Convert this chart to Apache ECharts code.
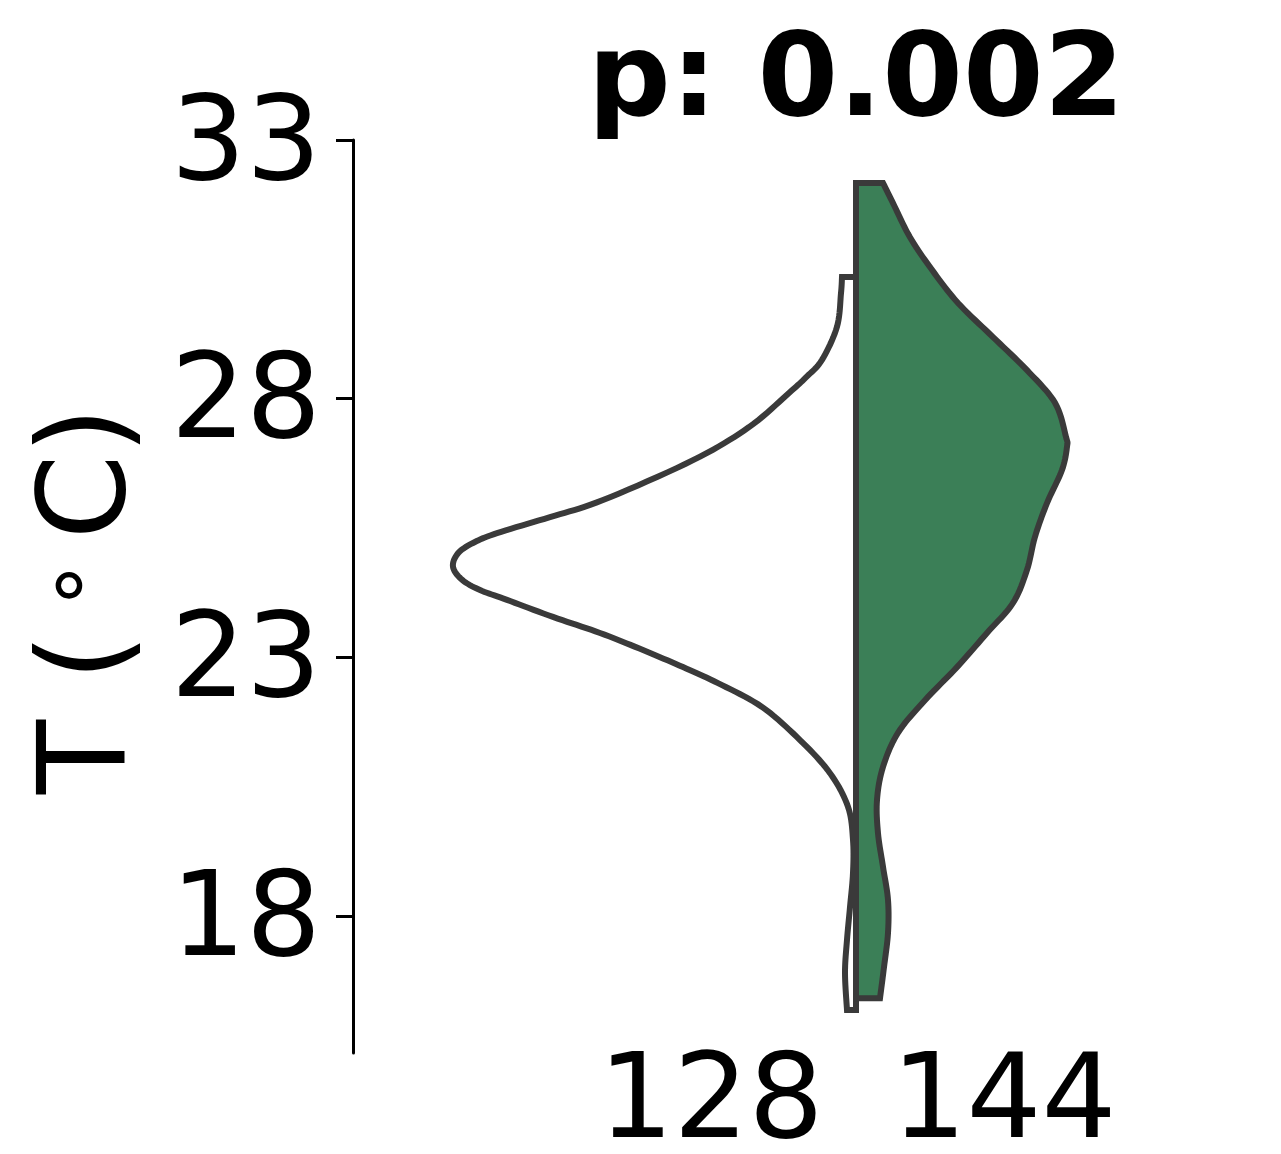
<!DOCTYPE html>
<html>
<head>
<meta charset="utf-8">
<script src="https://cdn.jsdelivr.net/npm/echarts@6/dist/echarts.min.js"></script>
<style>
  html, body { margin: 0; padding: 0; background: #ffffff; }
  #chart { width: 1281px; height: 1154px; }
</style>
</head>
<body>
<div id="chart"></div>
<script>
// Group names shown under each half and where they sit on the x scale
const groupLabels = ['128', '144'];
const groupLabelPos = [-1.45, 1.48];

// Temperature ticks on the y axis
const yTicks = [18, 23, 28, 33];

// Group 128 (left, open half): temperature (°C) from top to bottom and half-width of the density
const tempLeft = [30.35, 30.04, 29.39, 28.75, 28.43, 28.11, 27.45, 26.81, 26.04, 25.71, 25.40, 25.21,
  25.01, 24.75, 24.50, 24.30, 24.11, 23.78, 23.47, 23.14, 22.81, 22.50, 22.04, 21.40,
  20.76, 20.11, 19.47, 18.83, 18.17, 17.54, 16.90, 16.18];
const widthLeft = [0.14, 0.15, 0.19, 0.34, 0.49, 0.67, 1.07, 1.63, 2.53, 3.06, 3.59, 3.83,
  3.98, 4.03, 3.94, 3.76, 3.49, 3.03, 2.56, 2.13, 1.73, 1.38, 0.94, 0.56,
  0.26, 0.08, 0.03, 0.03, 0.06, 0.09, 0.11, 0.09];

// Group 144 (right, filled half)
const tempRight = [32.17, 31.78, 31.12, 30.49, 29.85, 29.19, 28.55, 27.92, 27.26, 27.07,
  26.62, 25.98, 25.33, 24.69, 24.05, 23.47, 22.81, 22.17, 21.54, 20.88, 20.24,
  19.60, 18.95, 18.31, 17.67, 17.01, 16.41];
const widthRight = [0.27, 0.37, 0.54, 0.76, 1.02, 1.37, 1.71, 1.99, 2.10, 2.11,
  2.06, 1.91, 1.79, 1.71, 1.57, 1.31, 1.01, 0.69, 0.42, 0.27, 0.21,
  0.22, 0.27, 0.32, 0.32, 0.28, 0.24];

const pValueText = 'p: 0.002';

const FONT = '"DejaVu Sans", "Liberation Sans", sans-serif';
const EDGE = '#3a3a3a';

// Uniform Catmull-Rom through pixel points, for a smooth outline
function catmullRom(pts, steps) {
  const out = [pts[0]];
  const n = pts.length;
  for (let i = 0; i < n - 1; i++) {
    const p0 = pts[Math.max(i - 1, 0)];
    const p1 = pts[i];
    const p2 = pts[i + 1];
    const p3 = pts[Math.min(i + 2, n - 1)];
    for (let s = 1; s <= steps; s++) {
      const t = s / steps, t2 = t * t, t3 = t2 * t;
      const x = 0.5 * ((2 * p1[0]) + (-p0[0] + p2[0]) * t +
        (2 * p0[0] - 5 * p1[0] + 4 * p2[0] - p3[0]) * t2 +
        (-p0[0] + 3 * p1[0] - 3 * p2[0] + p3[0]) * t3);
      const y = 0.5 * ((2 * p1[1]) + (-p0[1] + p2[1]) * t +
        (2 * p0[1] - 5 * p1[1] + 4 * p2[1] - p3[1]) * t2 +
        (-p0[1] + 3 * p1[1] - 3 * p2[1] + p3[1]) * t3);
      out.push([x, y]);
    }
  }
  return out;
}

// One half of a split violin: side = -1 draws to the left of centre, +1 to the right
function halfViolin(name, temps, widths, side, fill) {
  return {
    name: name,
    type: 'custom',
    coordinateSystem: 'cartesian2d',
    clip: false,
    silent: true,
    data: [[0, temps[0]]],
    renderItem: function (params, api) {
      const curve = temps.map(function (t, i) { return api.coord([side * widths[i], t]); });
      const top = api.coord([0, temps[0]]);
      const bottom = api.coord([0, temps[temps.length - 1]]);
      const pts = [top].concat(catmullRom(curve, 10), [bottom]);
      return {
        type: 'polygon',
        shape: { points: pts },
        style: { fill: fill, stroke: EDGE, lineWidth: 6, lineJoin: 'miter' }
      };
    }
  };
}

const chart = echarts.init(document.getElementById('chart'), null, { renderer: 'canvas' });

chart.setOption({
  animation: false,
  backgroundColor: '#ffffff',
  grid: { left: 353, right: 25, top: 140, bottom: 101, containLabel: false, outerBoundsMode: 'none' },
  xAxis: {
    type: 'value',
    min: -5.03,
    max: 4.0,
    axisLine: { show: false },
    axisTick: { show: false },
    splitLine: { show: false },
    axisLabel: {
      customValues: groupLabelPos,
      formatter: function (v) {
        for (let i = 0; i < groupLabelPos.length; i++) {
          if (Math.abs(groupLabelPos[i] - v) < 1e-6) return groupLabels[i];
        }
        return '';
      },
      fontSize: 118,
      fontFamily: FONT,
      color: '#000000',
      margin: 53,
      verticalAlign: 'middle'
    }
  },
  yAxis: {
    type: 'value',
    min: 15.35,
    max: 33,
    name: '{a|T (}{b|∘}{a|C)}',
    nameLocation: 'middle',
    nameRotate: 90,
    nameGap: 200,
    nameTextStyle: {
      fontFamily: FONT,
      fontSize: 122,
      color: '#000000',
      padding: [0, 8, 0, 0],
      rich: {
        a: { fontFamily: FONT, fontSize: 122, color: '#000000' },
        b: { fontFamily: FONT, fontSize: 86, color: '#000000', verticalAlign: 'top',
             lineHeight: 44, padding: [0, 19, 0, 21] }
      }
    },
    axisLine: { show: true, onZero: false, lineStyle: { color: '#000000', width: 3 } },
    axisTick: { show: true, customValues: yTicks, length: 17, lineStyle: { color: '#000000', width: 3 } },
    splitLine: { show: false },
    axisLabel: {
      customValues: yTicks,
      fontSize: 118,
      fontFamily: FONT,
      color: '#000000',
      margin: 32,
      verticalAlign: 'top',
      lineHeight: 16
    }
  },
  series: [
    halfViolin('128', tempLeft, widthLeft, -1, '#ffffff'),
    halfViolin('144', tempRight, widthRight, 1, '#3b7f57')
  ]
});

// Bold p-value heading centred over the violin centre line
const centreX = chart.convertToPixel({ xAxisIndex: 0 }, 0);
chart.setOption({
  graphic: [{
    type: 'text',
    x: centreX,
    y: 85,
    style: {
      text: pValueText,
      font: 'bold 116px ' + FONT,
      fill: '#000000',
      textAlign: 'center',
      textVerticalAlign: 'middle'
    }
  }]
});
</script>
</body>
</html>
